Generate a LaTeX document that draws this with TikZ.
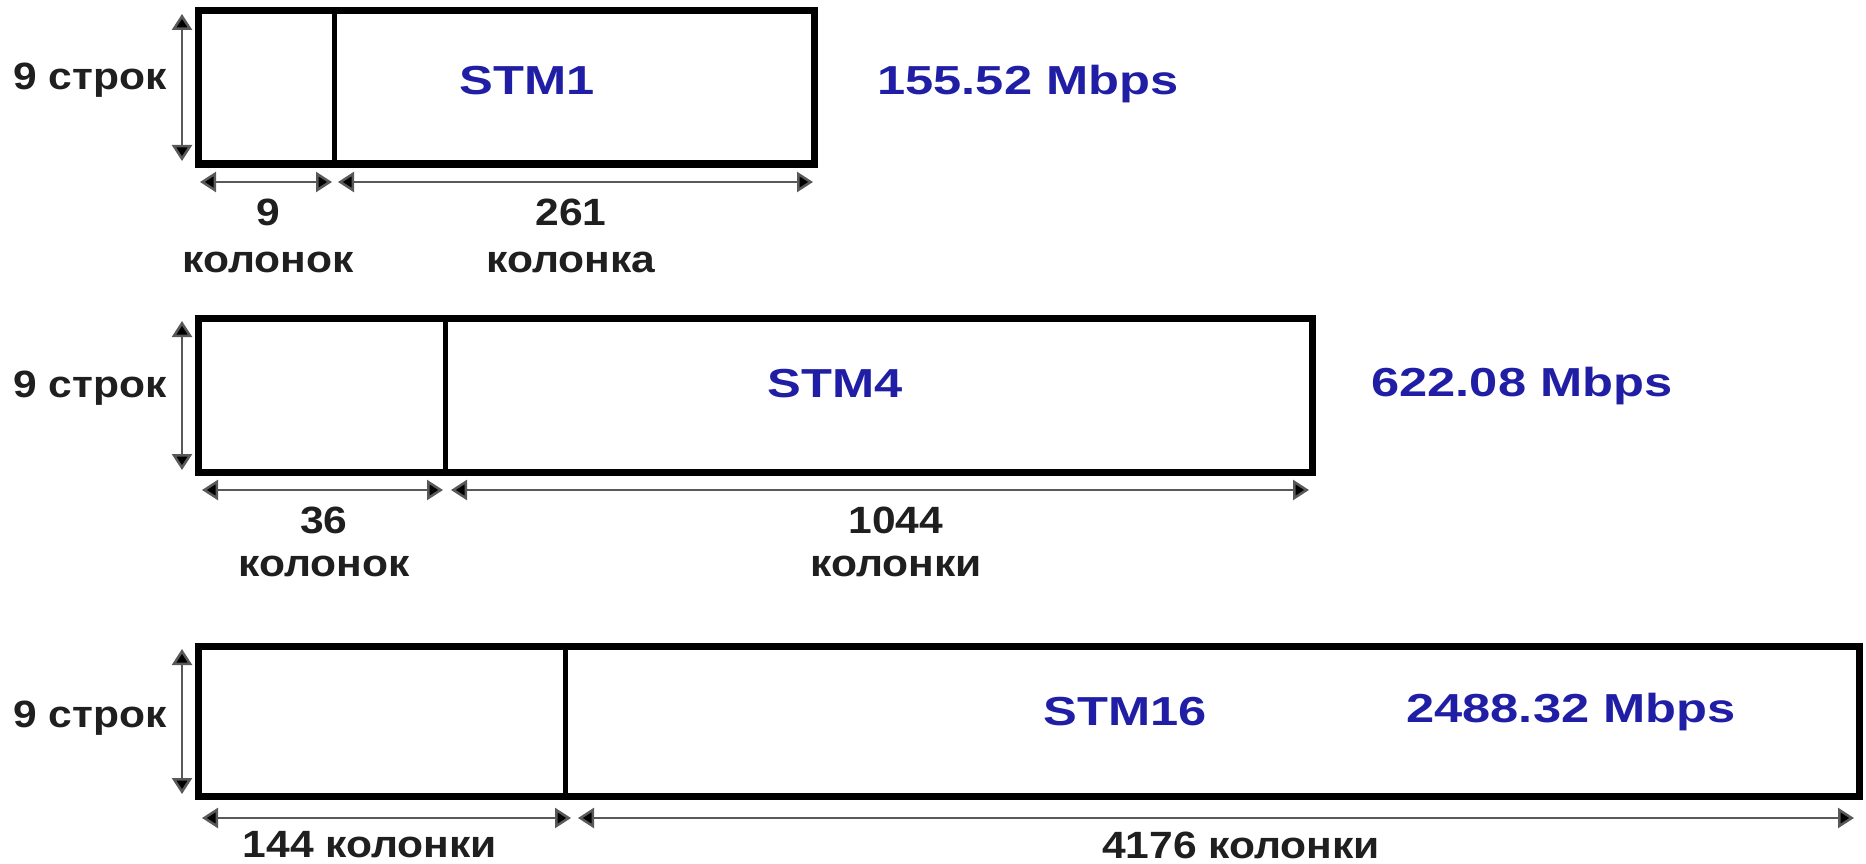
\documentclass[tikz,border=0pt]{standalone}
\usepackage{graphicx}
\usepackage{fontspec}
\setmainfont{Liberation Sans}
\usetikzlibrary{arrows.meta}
\definecolor{stmblue}{RGB}{32,30,165}
\newcommand{\bkw}[1]{\scalebox{1.12}[1]{#1}}
\newcommand{\blw}[1]{\scalebox{1.25}[1]{#1}}
\tikzset{
  frame/.style={line width=7pt,draw=black},
  divider/.style={line width=5pt,draw=black},
  dim/.style={line width=2.5pt,draw=black!65,{Triangle[length=16pt,width=20pt,fill=black]}-{Triangle[length=16pt,width=20pt,fill=black]}},
  blk/.style={font=\fontsize{38}{42}\selectfont\bfseries,text=black!88,inner sep=0pt},
  blu/.style={font=\fontsize{40.5}{44}\selectfont\bfseries,text=stmblue,inner sep=0pt},
}
\begin{document}
\begin{tikzpicture}[x=1pt,y=-1pt]
\useasboundingbox (0,0) rectangle (1866,864);
% ---------- STM1 ----------
\coordinate (a1) at (198,11); \coordinate (b1) at (814,164);
\coordinate (d1t) at (334.4,11); \coordinate (d1b) at (334.4,164);
\draw[frame] (a1) rectangle (b1);
\draw[divider] (d1t) -- (d1b);
\coordinate (v1a) at (182,14); \coordinate (v1b) at (182,161);
\draw[dim] (v1a) -- (v1b);
\coordinate (h1a) at (200,182); \coordinate (h1b) at (332,182);
\coordinate (h1c) at (338,182); \coordinate (h1d) at (813,182);
\draw[dim] (h1a) -- (h1b);
\draw[dim] (h1c) -- (h1d);
\node[blk] (r1) at (90,80) {\bkw{9 строк}};
\node[blu] (s1) at (527,81) {\blw{STM1}};
\node[blu] (m1) at (1028,84) {\blw{155.52 Mbps}};
\node[blk] (n1a) at (268,212) {\bkw{9}};
\node[blk] (t1a) at (268,262) {\bkw{колонок}};
\node[blk] (n1b) at (571,212) {\bkw{261}};
\node[blk] (t1b) at (571,262) {\bkw{колонка}};
% ---------- STM4 ----------
\coordinate (a2) at (198,318); \coordinate (b2) at (1312,472);
\coordinate (d2t) at (445,318); \coordinate (d2b) at (445,472);
\draw[frame] (a2) rectangle (b2);
\draw[divider] (d2t) -- (d2b);
\coordinate (v2a) at (182,321); \coordinate (v2b) at (182,470);
\draw[dim] (v2a) -- (v2b);
\coordinate (h2a) at (202,490); \coordinate (h2b) at (443,490);
\coordinate (h2c) at (451,490); \coordinate (h2d) at (1309,490);
\draw[dim] (h2a) -- (h2b);
\draw[dim] (h2c) -- (h2d);
\node[blk] (r2) at (90,388) {\bkw{9 строк}};
\node[blu] (s2) at (835,384) {\blw{STM4}};
\node[blu] (m2) at (1522,386) {\blw{622.08 Mbps}};
\node[blk] (n2a) at (324,520) {\bkw{36}};
\node[blk] (t2a) at (324,566) {\bkw{колонок}};
\node[blk] (n2b) at (896,520) {\bkw{1044}};
\node[blk] (t2b) at (896,566) {\bkw{колонки}};
% ---------- STM16 ----------
\coordinate (a3) at (198,646); \coordinate (b3) at (1859,796);
\coordinate (d3t) at (565,646); \coordinate (d3b) at (565,796);
\draw[frame] (a3) rectangle (b3);
\draw[divider] (d3t) -- (d3b);
\coordinate (v3a) at (182,649); \coordinate (v3b) at (182,794);
\draw[dim] (v3a) -- (v3b);
\coordinate (h3a) at (202,818); \coordinate (h3b) at (571,818);
\coordinate (h3c) at (578,818); \coordinate (h3d) at (1854,818);
\draw[dim] (h3a) -- (h3b);
\draw[dim] (h3c) -- (h3d);
\node[blk] (r3) at (90,718) {\bkw{9 строк}};
\node[blu] (s3) at (1125,712) {\blw{STM16}};
\node[blu] (m3) at (1571,712) {\blw{2488.32 Mbps}};
\node[blk] (t3a) at (370,845) {\bkw{144 колонки}};
\node[blk] (t3b) at (1241,845) {\bkw{4176 колонки}};
\end{tikzpicture}
\end{document}
